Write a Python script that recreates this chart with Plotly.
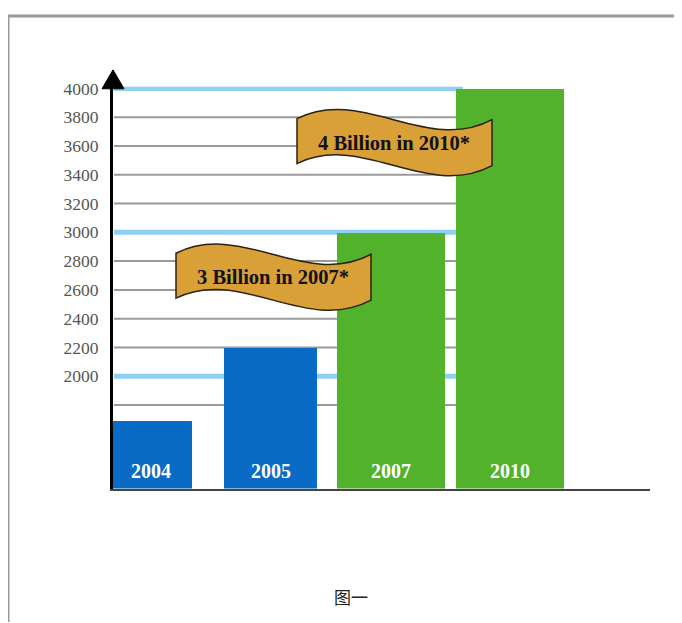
import plotly.graph_objects as go

# ---- data ----
years = ["2004", "2005", "2007", "2010"]
users = [1690, 2200, 3000, 4000]
bar_colors = ["#0A6BC6", "#0A6BC6", "#52B22C", "#52B22C"]
tick_values = [2000, 2200, 2400, 2600, 2800, 3000, 3200, 3400, 3600, 3800, 4000]
tick_labels = ["2000", "2200", "2400", "2600", "2800", "3000", "3200", "3400", "3600", "3800", "4000"]
grid_gray = [1800, 2200, 2400, 2600, 2800, 3200, 3400, 3600, 3800]
grid_blue = [2000, 3000, 4000]
banner_texts = ["4 Billion in 2010*", "3 Billion in 2007*"]
title_text = "图一"

OFFX, OFFY, SY = 8, 15, 0.99  # observed page placement of the figure
W, H = 682 - 2 * OFFX, 614
bar_widths = [0.677, 0.778, 0.903, 0.903]
Y_MIN, Y_MAX = 1219.5, 4011.3


def px(x):
    return (x - OFFX) / W


def py(y):
    return 1 - ((y - OFFY) / SY) / H


fig = go.Figure()
fig.add_trace(go.Bar(
    x=years, y=users, width=bar_widths,
    marker=dict(color=bar_colors, line=dict(width=0)),
    hoverinfo="skip", showlegend=False,
))

shapes = []
for v in grid_gray:
    shapes.append(dict(type="line", xref="paper", yref="y", x0=px(114), x1=px(463), y0=v, y1=v,
                       line=dict(color="#9a9a9a", width=2), layer="below"))
for v in grid_blue:
    shapes.append(dict(type="line", xref="paper", yref="y", x0=px(114), x1=px(463), y0=v, y1=v,
                       line=dict(color="#8FCFF3", width=5), layer="below"))

# arrow head on y axis
shapes.append(dict(type="path", xref="paper", yref="paper",
                   path=f"M {px(102)},{py(88)} L {px(124)},{py(88)} L {px(113)},{py(69)} Z",
                   fillcolor="black", line=dict(color="black", width=1)))

# frame
shapes.append(dict(type="line", xref="paper", yref="paper", x0=0, x1=1, y0=1, y1=1,
                   line=dict(color="#999999", width=3)))
shapes.append(dict(type="line", xref="paper", yref="paper", x0=0, x1=0, y0=1, y1=0,
                   line=dict(color="#999999", width=3)))


def banner(ox, oy):
    pts = [
        ("M", [(ox, oy)]),
        ("C", [(ox + 65, oy - 33), (ox + 130, oy + 36), (ox + 195, oy + 1)]),
        ("L", [(ox + 195, oy + 47)]),
        ("C", [(ox + 130, oy + 82), (ox + 65, oy + 13), (ox, oy + 45)]),
    ]
    s = ""
    for cmd, ps in pts:
        s += cmd + " " + " ".join(f"{px(a):.5f},{py(b):.5f}" for a, b in ps) + " "
    return s + "Z"


banner_origins = [(297, 118), (176, 253)]
annotations = []
for (ox, oy), txt in zip(banner_origins, banner_texts):
    shapes.append(dict(type="path", xref="paper", yref="paper", path=banner(ox, oy),
                       fillcolor="#D9A038", line=dict(color="#2b2210", width=1.5)))
    annotations.append(dict(xref="paper", yref="paper", x=px(ox + 97), y=py(oy + 24),
                            xanchor="center", yanchor="middle",
                            text=f"<b>{txt}</b>", showarrow=False,
                            font=dict(family="Liberation Serif", size=20.5, color="#111")))

# year labels at the bottom of the bars
for i, yr in enumerate(years):
    annotations.append(dict(xref="x", yref="y", x=i, y=Y_MIN, yanchor="bottom", yshift=5,
                            text=f"<b>{yr}</b>", showarrow=False,
                            font=dict(family="Liberation Serif", size=20, color="white")))

annotations.append(dict(xref="paper", yref="paper", x=px(351), y=py(597), xanchor="center",
                        yanchor="middle", text=title_text, showarrow=False,
                        font=dict(family="Noto Sans CJK SC", size=17, color="#222")))

fig.update_layout(
    width=W, height=H, autosize=False,
    margin=dict(l=0, r=0, t=0, b=0),
    paper_bgcolor="white", plot_bgcolor="white",
    shapes=shapes, annotations=annotations,
    bargap=0,
    xaxis=dict(type="category", domain=[px(113), px(650)], range=[-0.3207, 4.169],
               showticklabels=False, showgrid=False, zeroline=False, showline=True,
               linecolor="#444", linewidth=2, fixedrange=True),
    yaxis=dict(domain=[py(489), py(86)], range=[Y_MIN, Y_MAX], tickvals=tick_values,
               ticktext=tick_labels, showgrid=False, zeroline=False, showline=True,
               linecolor="black", linewidth=3, ticks="", ticklabelstandoff=8,
               tickfont=dict(family="Liberation Serif", size=17.5, color="#555"),
               fixedrange=True),
)

fig.write_html("out.html")
